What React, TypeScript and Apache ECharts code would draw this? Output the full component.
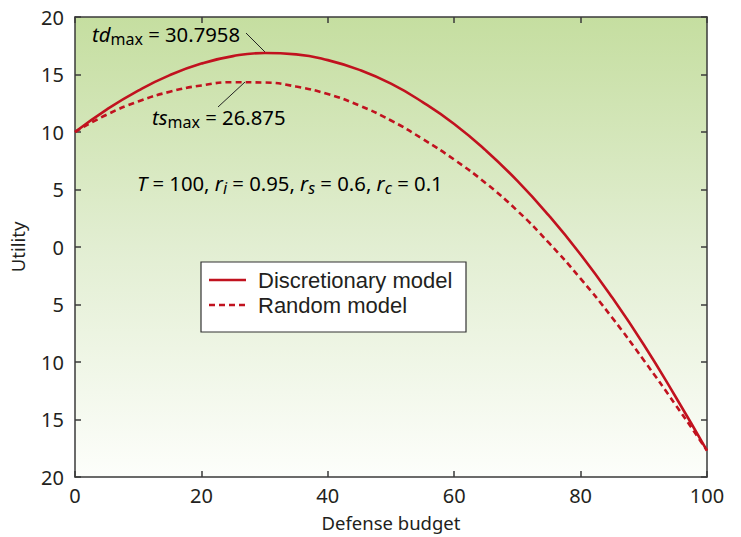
import React, { useEffect, useRef } from "react";
import * as echarts from "echarts";

const budget = [0, 5, 10, 15, 20, 25, 30, 35, 40, 45, 50, 55, 60, 65, 70, 75, 80, 85, 90, 95, 100];
const discretionary = [10.0, 11.95, 13.6, 14.95, 15.95, 16.6, 16.87, 16.75, 16.25, 15.4, 14.2, 12.6, 10.7, 8.4, 5.75, 2.72, -0.65, -4.4, -8.5, -13.0, -17.7];
const random = [10.0, 11.5, 12.65, 13.5, 14.05, 14.33, 14.3, 13.95, 13.3, 12.3, 11.0, 9.4, 7.6, 5.55, 3.15, 0.35, -2.75, -6.15, -9.85, -13.7, -17.7];
const seriesNames = ["Discretionary model", "Random model"];
const xName = "Defense budget";
const yName = "Utility";

const FONT = "'Noto Sans', 'Open Sans', sans-serif";
const LEGEND_FONT = "'Liberation Sans', Arial, sans-serif";
const RED = "#c1121f";
const TXT = "#231f20";

export default function App() {
  const ref = useRef<HTMLDivElement>(null);
  useEffect(() => {
    if (!ref.current) return;
    const chart = echarts.init(ref.current, null, { renderer: "svg" });
    const axisLine = { show: true, onZero: false, lineStyle: { color: "#3a3a3a", width: 1.5 } };
    const axisTick = { show: true, inside: true, length: 6, lineStyle: { color: "#3a3a3a", width: 1.5 } };
    const rich = {
      i: { fontStyle: "italic", fontSize: 20.3, fontFamily: FONT, color: TXT, lineHeight: 24 },
      s: { fontSize: 16, fontFamily: FONT, color: TXT, lineHeight: 14, padding: [10, 0, 0, 0] },
      si: { fontStyle: "italic", fontSize: 16, fontFamily: FONT, color: TXT, lineHeight: 14, padding: [10, 0, 0, 0] },
      n: { fontSize: 20.3, fontFamily: FONT, color: TXT, lineHeight: 24 },
    };
    const option: any = {
      animation: false,
      grid: {
        left: 73,
        right: 34,
        top: 17,
        bottom: 58,
        show: true,
        borderWidth: 0,
        backgroundColor: new echarts.graphic.LinearGradient(0, 0, 0, 1, [
          { offset: 0, color: "#c5dea0" },
          { offset: 0.5, color: "#e2eed2" },
          { offset: 1, color: "#fdfefb" },
        ]),
      },
      xAxis: [
        {
          type: "value",
          min: 0,
          max: 100,
          interval: 20,
          position: "bottom",
          axisLine,
          axisTick,
          splitLine: { show: false },
          axisLabel: { fontSize: 20, color: TXT, fontFamily: FONT, margin: 8 },
          name: xName,
          nameLocation: "middle",
          nameGap: 36,
          nameTextStyle: { fontSize: 18.5, color: TXT, fontFamily: FONT },
        },
        {
          type: "value",
          min: 0,
          max: 100,
          interval: 20,
          position: "top",
          axisLine,
          axisTick,
          splitLine: { show: false },
          axisLabel: { show: false },
        },
      ],
      yAxis: [
        {
          type: "value",
          min: -20,
          max: 20,
          interval: 5,
          position: "left",
          axisLine,
          axisTick,
          splitLine: { show: false },
          axisLabel: {
            fontSize: 20,
            color: TXT,
            fontFamily: FONT,
            margin: 11,
            formatter: (v: number) => String(Math.abs(v)),
          },
          name: yName,
          nameLocation: "middle",
          nameGap: 48,
          nameTextStyle: { fontSize: 18.5, color: TXT, fontFamily: FONT },
        },
        {
          type: "value",
          min: -20,
          max: 20,
          interval: 5,
          position: "right",
          axisLine,
          axisTick,
          splitLine: { show: false },
          axisLabel: { show: false },
        },
      ],
      series: [
        {
          name: seriesNames[0],
          type: "line",
          smooth: true,
          showSymbol: false,
          data: budget.map((b, i) => [b, discretionary[i]]),
          lineStyle: { color: RED, width: 2.6 },
          z: 3,
        },
        {
          name: seriesNames[1],
          type: "line",
          smooth: true,
          showSymbol: false,
          data: budget.map((b, i) => [b, random[i]]),
          lineStyle: { color: RED, width: 2.6, type: [6, 4] },
          z: 2,
        },
      ],
      graphic: [
        {
          type: "text",
          left: 92,
          top: 21,
          style: { text: "{i|td}{s|max}{n| = 30.7958}", rich },
        },
        {
          type: "line",
          shape: { x1: 246, y1: 33, x2: 265, y2: 52 },
          style: { stroke: "#222", lineWidth: 1 },
        },
        {
          type: "text",
          left: 152,
          top: 104,
          style: { text: "{i|ts}{s|max}{n| = 26.875}", rich },
        },
        {
          type: "line",
          shape: { x1: 218, y1: 107, x2: 245, y2: 82 },
          style: { stroke: "#222", lineWidth: 1 },
        },
        {
          type: "text",
          left: 137,
          top: 170,
          style: {
            text: "{i|T}{n| = 100, }{i|r}{si|i}{n| = 0.95, }{i|r}{si|s}{n| = 0.6, }{i|r}{si|c}{n| = 0.1}",
            rich,
          },
        },
        {
          type: "rect",
          shape: { x: 201, y: 262, width: 265, height: 70 },
          style: { fill: "#ffffff", stroke: "#333", lineWidth: 1.2 },
        },
        {
          type: "line",
          shape: { x1: 209, y1: 280, x2: 246, y2: 280 },
          style: { stroke: RED, lineWidth: 2.6 },
        },
        {
          type: "line",
          shape: { x1: 209, y1: 305, x2: 246, y2: 305 },
          style: { stroke: RED, lineWidth: 2.6, lineDash: [6, 4] },
        },
        {
          type: "text",
          x: 258,
          y: 280,
          style: {
            text: seriesNames[0],
            fontSize: 22,
            fontFamily: LEGEND_FONT,
            fill: TXT,
            verticalAlign: "middle",
          },
        },
        {
          type: "text",
          x: 258,
          y: 305,
          style: {
            text: seriesNames[1],
            fontSize: 22,
            fontFamily: LEGEND_FONT,
            fill: TXT,
            verticalAlign: "middle",
          },
        },
      ],
    };
    chart.setOption(option);
    return () => chart.dispose();
  }, []);
  return <div ref={ref} style={{ width: 741, height: 537, position: "absolute", left: 0, top: 0 }} />;
}
